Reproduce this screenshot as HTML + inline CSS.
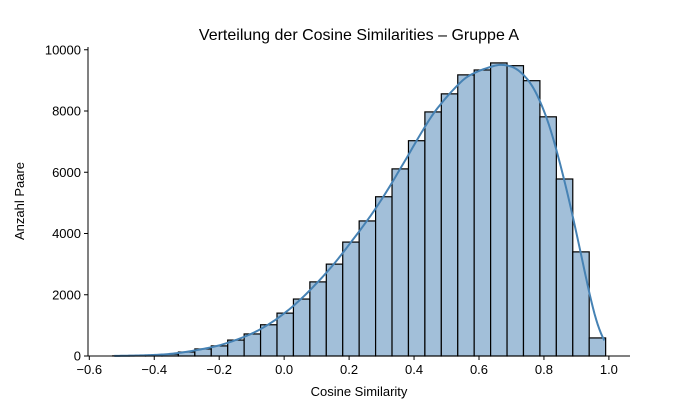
<!DOCTYPE html>
<html><head><meta charset="utf-8"><style>
body{margin:0;background:#fff;}
svg{display:block;font-family:"Liberation Sans","DejaVu Sans",sans-serif;}
</style></head><body>
<svg id="chart" width="700" height="400" viewBox="0 0 700 400">
<rect width="700" height="400" fill="#fff"/>
<text x="359" y="40" text-anchor="middle" font-size="16" fill="#000">Verteilung der Cosine Similarities – Gruppe A</text>
<g id="bars"></g>
<path id="kde" fill="none" stroke="#4682b4" stroke-width="2"/>
<g id="axes"></g>
<text x="359" y="396" text-anchor="middle" font-size="13">Cosine Similarity</text>
<text x="24" y="201" text-anchor="middle" font-size="13" transform="rotate(-90 24 201)">Anzahl Paare</text>
</svg>
<script>
const binStart = -0.528;
const binWidth = 0.0506;
const counts = [5,15,30,60,130,230,330,520,720,1020,1400,1860,2420,3000,3720,4410,5200,6110,7030,7970,8560,9180,9340,9570,9480,8990,7810,5780,3400,590];
const xTicks = [-0.6,-0.4,-0.2,0.0,0.2,0.4,0.6,0.8,1.0];
const xTickLabels = ["−0.6","−0.4","−0.2","0.0","0.2","0.4","0.6","0.8","1.0"];
const yTicks = [0,2000,4000,6000,8000,10000];
const yTickLabels = ["0","2000","4000","6000","8000","10000"];

const L=88,R=630,T=47,B=356;
const xMin=-0.604,xMax=1.065,yMin=0,yMax=10090;
const X=v=>L+(v-xMin)/(xMax-xMin)*(R-L);
const Y=v=>B-(v-yMin)/(yMax-yMin)*(B-T);
const NS="http://www.w3.org/2000/svg";
const bars=document.getElementById('bars');
counts.forEach((c,i)=>{
  const x0=binStart+i*binWidth,x1=x0+binWidth;
  const r=document.createElementNS(NS,'rect');
  r.setAttribute('x',X(x0));r.setAttribute('y',Y(c));
  r.setAttribute('width',X(x1)-X(x0));r.setAttribute('height',Y(0)-Y(c));
  r.setAttribute('fill','#a2bfd9');r.setAttribute('stroke','#000');r.setAttribute('stroke-width','1.2');
  
  
  bars.appendChild(r);
});
// KDE approximation from histogram
const bw=0.034;
const lo=binStart+0.005, hi=binStart+counts.length*binWidth-0.004;
let d='';
for(let k=0;k<=300;k++){
  const x=lo+(hi-lo)*k/300;
  let s=0;
  counts.forEach((c,i)=>{const m=binStart+(i+0.5)*binWidth;const z=(x-m)/bw;s+=c*Math.exp(-0.5*z*z)/(bw*Math.sqrt(2*Math.PI))*binWidth;});
  d+=(k?'L':'M')+X(x).toFixed(2)+','+Y(s).toFixed(2);
}
document.getElementById('kde').setAttribute('d',d);
const ax=document.getElementById('axes');
function el(tag,attrs,txt){const e=document.createElementNS(NS,tag);for(const k in attrs)e.setAttribute(k,attrs[k]);if(txt!=null)e.textContent=txt;ax.appendChild(e);return e;}
xTicks.forEach((t,i)=>{
  const e=el('line',{x1:X(t),x2:X(t),y1:B,y2:B+4,stroke:'#000'});
  
  
  const l=el('text',{x:X(t),y:B+18,'text-anchor':'middle','font-size':'13'},xTickLabels[i]);
  
  
});
yTicks.forEach((t,i)=>{
  const e=el('line',{x1:L-4,x2:L,y1:Y(t),y2:Y(t),stroke:'#000'});
  
  
  const l=el('text',{x:L-7,y:Y(t)+4.5,'text-anchor':'end','font-size':'13'},yTickLabels[i]);
  
  
});
const sl=el('line',{x1:L,x2:L,y1:T,y2:B,stroke:'#000'});


const sb=el('line',{x1:L,x2:R,y1:B,y2:B,stroke:'#000'});


</script>
</body></html>
